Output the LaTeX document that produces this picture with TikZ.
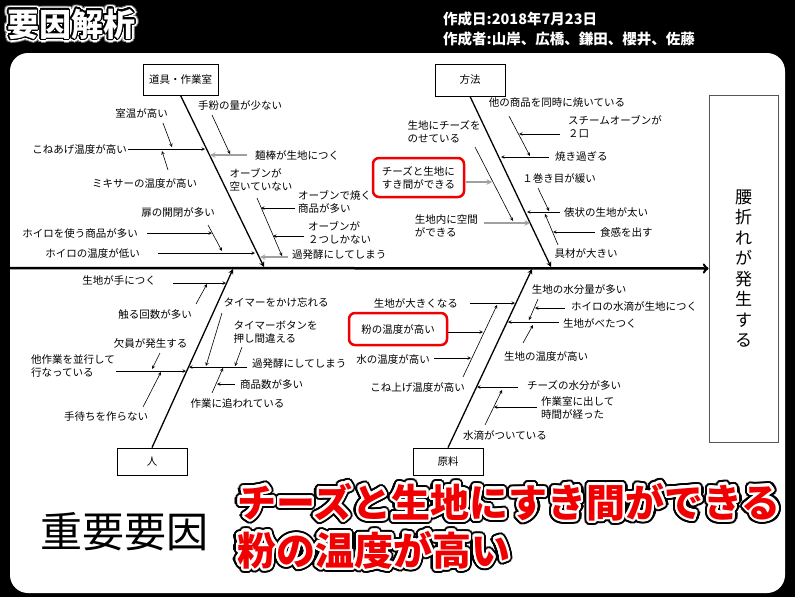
\documentclass[tikz,border=0pt]{standalone}
\usepackage{fontspec}
\setmainfont{Noto Sans CJK JP}
\usepackage{contour}
\contournumber{32}
\usetikzlibrary{arrows}
\definecolor{rojo}{HTML}{F00000}
\definecolor{gris}{HTML}{A0A0A0}
\definecolor{grisborde}{HTML}{555555}
\newcommand{\rotulo}[1]{\makebox[0pt][l]{\contourlength{4.5pt}\contour{black}{#1}}\contourlength{2.2pt}\contour{white}{\textcolor{rojo}{#1}}}
\newcommand{\rotulotitulo}[1]{\makebox[0pt][l]{\contourlength{4pt}\contour{gray}{\color{gray}#1}}\makebox[0pt][l]{\contourlength{3pt}\contour{white}{\color{white}#1}}\contourlength{1.2pt}\contour{black}{\color{white}#1}}
\tikzset{
  categoria/.style={rectangle, draw=black, fill=white, line width=0.8pt, minimum width=75pt,
                    minimum height=31pt, font=\fontsize{10.5}{12}\selectfont},
  efecto/.style={rectangle, draw=grisborde, fill=white, line width=0.8pt, minimum width=69pt,
                 minimum height=347pt, align=center, font=\fontsize{17}{20.5}\selectfont},
  causa/.style={inner sep=1pt, align=left, font=\fontsize{10.5}{13}\selectfont},
  clave/.style={causa, draw=rojo, line width=2.5pt, rounded corners=6pt},
  espina/.style={line width=2.5pt, ->, >=to},
  rama/.style={line width=1.3pt, ->, >=stealth},
  flecha/.style={line width=0.6pt, ->, >=stealth},
  flechagris/.style={flecha, draw=gris, line width=1.4pt}
}
\begin{document}
\begin{tikzpicture}[x=1pt, y=-1pt]
  \useasboundingbox (0,0) rectangle (795,597);
  \fill [black] (0,0) rectangle (795,597);
  \fill [white, rounded corners=18pt] (10,53) rectangle (785,593);
  % Encabezado
  \node (titulo) [anchor=base west, inner sep=0, font=\fontsize{32}{32}\selectfont\bfseries] at (7,36) {\rotulotitulo{要因解析}};
  \node (fecha) [anchor=base west, inner sep=0, text=white, font=\fontsize{14.5}{15}\selectfont\bfseries] at (443,24) {作成日:2018年7月23日};
  \node (autores) [anchor=base west, inner sep=0, text=white, font=\fontsize{14.5}{15}\selectfont\bfseries] at (443,44) {作成者:山岸、広橋、鎌田、櫻井、佐藤};
  % Espina principal y efecto
  \node (quiebre) [efecto] at (743.5,268.5) {腰\\折\\れ\\が\\発\\生\\す\\る};
  \coordinate (inicio) at (10,268);
  \draw [espina] (inicio) -- (quiebre.west);
  % Categorias
  \node (herr) [categoria] at (180.5,79.5) {道具・作業室};
  \node (metodo) [categoria, minimum width=70pt, minimum height=32pt] at (470,80) {方法};
  \node (persona) [categoria, minimum width=70pt, minimum height=27pt] at (152,461.5) {人};
  \node (material) [categoria, minimum width=70pt, minimum height=27pt] at (448,461.5) {原料};
  \coordinate (bh) at (264,267); \coordinate (bm) at (551,267);
  \coordinate (bp) at (233,269); \coordinate (bg) at (532,269);
  \draw [rama] (herr.south) -- (bh);
  \draw [rama] (metodo.south) -- (bm);
  \draw [rama] (persona.north) -- (bp);
  \draw [rama] (material.north) -- (bg);

  % Rama: 道具・作業室
  \node (d1) [causa] at (141.5,113) {室温が高い};
  \node (d2) [causa, anchor=east] at (128,149) {こねあげ温度が高い};
  \node (d3) [causa] at (144.5,183) {ミキサーの温度が高い};
  \node (d4) [causa] at (240,105) {手粉の量が少ない};
  \node (d5) [causa, anchor=west] at (254,155) {麺棒が生地につく};
  \node (d6) [causa] at (261,180) {オーブンが\\空いていない};
  \node (d7) [causa, anchor=west] at (297,202) {オーブンで焼く\\商品が多い};
  \node (d8) [causa, anchor=west] at (307,233) {オーブンが\\２つしかない};
  \node (d9) [causa, anchor=west] at (291,255) {過発酵にしてしまう};
  \node (d10) [causa] at (178,213) {扉の開閉が多い};
  \node (d11) [causa, anchor=east] at (139,233) {ホイロを使う商品が多い};
  \node (d12) [causa, anchor=east] at (141,253) {ホイロの温度が低い};
  \coordinate (cd2) at (205,149); \coordinate (cd5) at (210,155);
  \coordinate (cd7) at (261,208); \coordinate (cd8) at (273,236);
  \coordinate (cd9) at (260,257); \coordinate (cd11) at (212,233);
  \coordinate (cd12) at (255,253);
  \coordinate (sd1) at (163,123); \coordinate (ed1) at (172,147);
  \coordinate (sd3) at (168,170); \coordinate (ed3) at (162,151);
  \coordinate (sd4) at (212,115); \coordinate (ed4) at (230,154);
  \coordinate (sd6) at (257,198); \coordinate (ed6) at (282,256);
  \coordinate (sd10) at (208,225); \coordinate (ed10) at (222,251);
  \draw [flecha] (d2.east |- cd2) -- (cd2);
  \draw [flechagris, shorten <=7pt] (d5.west |- cd5) -- (cd5);
  \draw [flecha, shorten <=2pt] (d7.west |- cd7) -- (cd7);
  \draw [flecha, shorten <=3pt] (d8.west |- cd8) -- (cd8);
  \draw [flechagris, shorten <=3pt] (d9.west |- cd9) -- (cd9);
  \draw [flecha, shorten <=8pt] (d11.east |- cd11) -- (cd11);
  \draw [flecha, shorten <=17pt] (d12.east |- cd12) -- (cd12);
  \draw [flecha] (sd1) -- (ed1); \draw [flecha] (sd3) -- (ed3);
  \draw [flecha] (sd4) -- (ed4); \draw [flecha] (sd6) -- (ed6);
  \draw [flecha] (sd10) -- (ed10);

  % Rama: 方法
  \node (h1) [causa] at (557,103) {他の商品を同時に焼いている};
  \node (h2) [causa, anchor=west] at (567,127) {スチームオーブンが\\２口};
  \node (h3) [causa, anchor=west] at (554,157) {焼き過ぎる};
  \node (h4) [causa] at (444,132) {生地にチーズを\\のせている};
  \node (h5) [clave, minimum width=91pt, minimum height=39pt] at (418.5,177.5) {チーズと生地に\\すき間ができる};
  \node (h6) [causa, anchor=east] at (479,226) {生地内に空間\\ができる};
  \node (h7) [causa] at (559,178) {１巻き目が緩い};
  \node (h8) [causa, anchor=west] at (563,212) {俵状の生地が太い};
  \node (h9) [causa, anchor=west] at (599,232) {食感を出す};
  \node (h10) [causa] at (586,253) {具材が大きい};
  \coordinate (ch2) at (519,134); \coordinate (ch3) at (501,157);
  \coordinate (ch5) at (492,182); \coordinate (ch6) at (530,223);
  \coordinate (ch8) at (527,212); \coordinate (ch9) at (553,232);
  \coordinate (sh1) at (509,116); \coordinate (eh1) at (530,156);
  \coordinate (sh4) at (475,147); \coordinate (eh4) at (513,221);
  \coordinate (sh7) at (538,188); \coordinate (eh7) at (549,211);
  \coordinate (sh10) at (558,245); \coordinate (eh10) at (545,214);
  \draw [flecha, shorten <=7pt] (h2.west |- ch2) -- (ch2);
  \draw [flecha, shorten <=5pt] (h3.west |- ch3) -- (ch3);
  \draw [flechagris, shorten <=1pt] (h5.east |- ch5) -- (ch5);
  \draw [flechagris, shorten <=5pt] (h6.east |- ch6) -- (ch6);
  \draw [flecha, shorten <=3pt] (h8.west |- ch8) -- (ch8);
  \draw [flecha, shorten <=4pt] (h9.west |- ch9) -- (ch9);
  \draw [flecha] (sh1) -- (eh1); \draw [flecha] (sh4) -- (eh4);
  \draw [flecha] (sh7) -- (eh7); \draw [flecha] (sh10) -- (eh10);

  % Rama: 人
  \node (p1) [causa, anchor=east] at (157,280) {生地が手につく};
  \node (p2) [causa] at (155,314) {触る回数が多い};
  \node (p3) [causa] at (276,302) {タイマーをかけ忘れる};
  \node (p4) [causa] at (275.5,332) {タイマーボタンを\\押し間違える};
  \node (p5) [causa, anchor=west] at (251,364) {過発酵にしてしまう};
  \node (p6) [causa, anchor=west] at (239,384) {商品数が多い};
  \node (p7) [causa] at (237.5,403) {作業に追われている};
  \node (p8) [causa] at (150.5,343) {欠員が発生する};
  \node (p9) [causa, anchor=east] at (116,366) {他作業を並行して\\行なっている};
  \node (p10) [causa] at (106,417) {手待ちを作らない};
  \coordinate (cp1) at (226,283); \coordinate (cp5) at (189,367);
  \coordinate (cp6) at (217,384); \coordinate (cp9) at (186,371);
  \coordinate (sp2) at (196,304); \coordinate (ep2) at (207,284);
  \coordinate (sp3) at (222,313); \coordinate (ep3) at (206,366);
  \coordinate (sp4) at (242,347); \coordinate (ep4) at (235,366);
  \coordinate (sp7) at (212,393); \coordinate (ep7) at (223,368);
  \coordinate (sp8) at (160,353); \coordinate (ep8) at (152,369);
  \coordinate (sp10) at (143,407); \coordinate (ep10) at (161,372);
  \draw [flecha, shorten <=16pt] (p1.east |- cp1) -- (cp1);
  \draw [flecha, shorten <=4pt] (p5.west |- cp5) -- (cp5);
  \draw [flecha, shorten <=4pt] (p6.west |- cp6) -- (cp6);
  \draw [flecha] (p9.east |- cp9) -- (cp9);
  \draw [flecha] (sp2) -- (ep2); \draw [flecha] (sp3) -- (ep3);
  \draw [flecha] (sp4) -- (ep4); \draw [flecha] (sp7) -- (ep7);
  \draw [flecha] (sp8) -- (ep8); \draw [flecha] (sp10) -- (ep10);

  % Rama: 原料
  \node (g1) [causa] at (579,290) {生地の水分量が多い};
  \node (g2) [causa, anchor=west] at (570,306) {ホイロの水滴が生地につく};
  \node (g3) [causa, anchor=west] at (562,323) {生地がべたつく};
  \node (g4) [causa] at (546,356) {生地の温度が高い};
  \node (g5) [causa, anchor=east] at (459,303) {生地が大きくなる};
  \node (g6) [clave, minimum width=98pt, minimum height=32pt] at (398,329) {粉の温度が高い};
  \node (g7) [causa, anchor=east] at (431,359) {水の温度が高い};
  \node (g8) [causa] at (417.5,387) {こね上げ温度が高い};
  \node (g9) [causa, anchor=west] at (526,385) {チーズの水分が多い};
  \node (g10) [causa, anchor=west] at (540,408) {作業室に出して\\時間が経った};
  \node (g11) [causa] at (505,435) {水滴がついている};
  \coordinate (cg2) at (535,308); \coordinate (cg3) at (508,322);
  \coordinate (cg5) at (515,303); \coordinate (cg6) at (483,332);
  \coordinate (cg7) at (471,358); \coordinate (cg9) at (477,387);
  \coordinate (cg10) at (494,407);
  \coordinate (sg1) at (538,299); \coordinate (eg1) at (529,320);
  \coordinate (sg4) at (523,343); \coordinate (eg4) at (533,325);
  \coordinate (sg8) at (463,377); \coordinate (eg8) at (497,305);
  \coordinate (sg11) at (485,425); \coordinate (eg11) at (502,390);
  \draw [flecha, shorten <=5pt] (g2.west |- cg2) -- (cg2);
  \draw [flecha, shorten <=3pt] (g3.west |- cg3) -- (cg3);
  \draw [flecha, shorten <=11pt] (g5.east |- cg5) -- (cg5);
  \draw [flecha] (g6.east |- cg6) -- (cg6);
  \draw [flecha, shorten <=3pt] (g7.east |- cg7) -- (cg7);
  \draw [flecha, shorten <=8pt] (g9.west |- cg9) -- (cg9);
  \draw [flecha, shorten <=3pt] (g10.west |- cg10) -- (cg10);
  \draw [flecha] (sg1) -- (eg1); \draw [flecha] (sg4) -- (eg4);
  \draw [flecha] (sg8) -- (eg8); \draw [flecha] (sg11) -- (eg11);

  % Conclusion
  \node (importante) [anchor=base west, inner sep=0, font=\fontsize{42}{42}\selectfont] at (40,547) {重要要因};
  \node (clave1) [anchor=base west, inner sep=0, font=\fontsize{39}{40}\selectfont\bfseries] at (237,517) {\rotulo{チーズと生地にすき間ができる}};
  \node (clave2) [anchor=base west, inner sep=0, font=\fontsize{39}{40}\selectfont\bfseries] at (237,565) {\rotulo{粉の温度が高い}};
\end{tikzpicture}
\end{document}
